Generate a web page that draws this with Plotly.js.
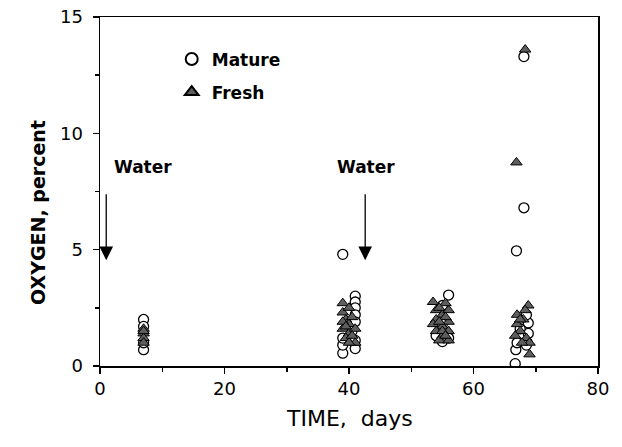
<!DOCTYPE html>
<html>
<head>
<meta charset="utf-8">
<script src="https://cdn.plot.ly/plotly-3.0.1.min.js"></script>
<style>html,body{margin:0;padding:0;background:#fff;}#chart{width:622px;height:447px;}</style>
</head>
<body>
<div id="chart"></div>
<script>
// Mature samples (open circles)
const matureDays = [7, 7, 7, 7,
  39, 41, 41, 41, 41, 41, 40.5, 41, 39, 39, 39, 41,
  56, 55, 55, 54, 56, 55,
  68.1, 68.1, 66.9, 66.8, 66.7, 68.8, 68.8, 68.5, 67, 68.5, 67.5];
const matureO2 = [2.0, 1.7, 0.7, 1.0,
  4.8, 3.0, 2.75, 2.5, 2.2, 1.9, 1.5, 0.75, 0.55, 0.9, 1.2, 1.1,
  3.05, 2.6, 1.05, 1.3, 1.2, 1.8,
  13.3, 6.8, 4.95, 0.7, 0.1, 1.85, 1.4, 2.2, 1.0, 0.9, 1.6];
// Fresh samples (filled triangles)
const freshDays = [7, 7, 7, 7, 7,
  39, 39, 39.5, 40, 39, 40, 39.5, 41, 40.5, 39, 40, 41, 40, 39.5, 40.5,
  53.5, 54, 55, 56, 54, 55, 56, 54, 55, 56, 54.5, 56, 55.5, 53.5, 54.5, 55.5, 55, 54.5, 55.5,
  68.3, 66.9, 68.8, 68.3, 67, 67, 67.5, 68.5, 69, 66.7, 68, 69, 67.8, 67.5];
const freshO2 = [1.6, 1.4, 1.2, 1.0, 1.5,
  2.7, 2.3, 2.0, 1.8, 1.6, 1.4, 1.2, 1.0, 2.1, 1.9, 2.5, 1.6, 1.0, 1.7, 1.3,
  2.75, 2.4, 2.2, 2.4, 2.0, 1.7, 1.9, 1.5, 1.3, 1.5, 1.1, 1.1, 2.7, 1.8, 2.5, 2.1, 1.5, 1.9, 1.3,
  13.6, 8.75, 2.6, 2.4, 2.2, 1.8, 1.5, 1.2, 0.5, 1.3, 2.0, 1.0, 1.0, 2.0];
// Watering events: day, arrow top, arrow tip
const waterDays = [1, 42.6];
const waterTop = [7.45, 7.45];
const waterTip = [4.55, 4.55];
const waterLabelX = [6.9, 42.8];
const waterLabelY = [8.55, 8.55];
const xTicks = [0, 20, 40, 60, 80];
const yTicks = [0, 5, 10, 15];

const FONT = 'DejaVu Sans, Arial, sans-serif';

const traces = [
  {
    x: matureDays, y: matureO2, type: 'scatter', mode: 'markers', name: 'Mature',
    legendgroup: 'a',
    marker: {symbol: 'circle', size: 10, color: '#ffffff', line: {color: '#000', width: 1.3}}
  },
  {
    x: freshDays, y: freshO2, type: 'scatter', mode: 'markers', name: 'Fresh',
    legendgroup: 'b',
    marker: {symbol: 'triangle-up', size: 10, color: '#5e5e5e', line: {color: '#000', width: 1}}
  }
];

const annotations = [];
for (let i = 0; i < waterDays.length; i++) {
  annotations.push({
    x: waterDays[i], y: waterTip[i], xref: 'x', yref: 'y',
    ax: waterDays[i], ay: waterTop[i], axref: 'x', ayref: 'y',
    showarrow: true, arrowhead: 2, arrowsize: 2.1, arrowwidth: 1.3, arrowcolor: '#000', text: ''
  });
  annotations.push({
    x: waterLabelX[i], y: waterLabelY[i], xref: 'x', yref: 'y', showarrow: false,
    text: 'Water', font: {family: FONT, size: 17, color: '#000', weight: 'bold'}
  });
}
annotations.push({
  xref: 'paper', yref: 'paper', x: -0.151, y: 0.441, showarrow: false, textangle: -90,
  text: 'OXYGEN, percent', font: {family: FONT, size: 19, color: '#000', weight: 'bold'}
});
annotations.push({
  xref: 'paper', yref: 'paper', x: 0.502, y: -0.192, showarrow: false,
  text: 'TIME,  days', font: {family: FONT, size: 22, color: '#000'}
});

const layout = {
  width: 622, height: 447,
  margin: {l: 100, r: 24, t: 17, b: 81},
  paper_bgcolor: '#fff', plot_bgcolor: '#fff',
  showlegend: true,
  legend: {
    x: 0.144, y: 0.93, xanchor: 'left', yanchor: 'top',
    bgcolor: 'rgba(0,0,0,0)', borderwidth: 0, tracegroupgap: 8,
    font: {family: FONT, size: 17, color: '#000', weight: 'bold'},
    itemsizing: 'constant'
  },
  xaxis: {
    range: [0, 80], tickvals: xTicks, ticktext: xTicks.map(String),
    ticks: 'outside', ticklen: 6, tickwidth: 1.5, tickcolor: '#000',
    minor: {dtick: 10, tick0: 0, ticks: 'outside', ticklen: 4, tickcolor: '#000', showgrid: false},
    showgrid: false, zeroline: false, showline: true, linecolor: '#000', linewidth: 1.5, mirror: true,
    tickfont: {family: FONT, size: 18, color: '#000'}
  },
  yaxis: {
    range: [0, 15], tickvals: yTicks, ticktext: yTicks.map(String),
    ticks: 'outside', ticklen: 6, tickwidth: 1.5, tickcolor: '#000',
    minor: {dtick: 2.5, tick0: 0, ticks: 'outside', ticklen: 4, tickcolor: '#000', showgrid: false},
    showgrid: false, zeroline: false, showline: true, linecolor: '#000', linewidth: 1.5, mirror: true,
    tickfont: {family: FONT, size: 18, color: '#000'}, ticklabelstandoff: 6
  },
  annotations: annotations
};

Plotly.newPlot('chart', traces, layout, {displayModeBar: false, staticPlot: true});
</script>
</body>
</html>
